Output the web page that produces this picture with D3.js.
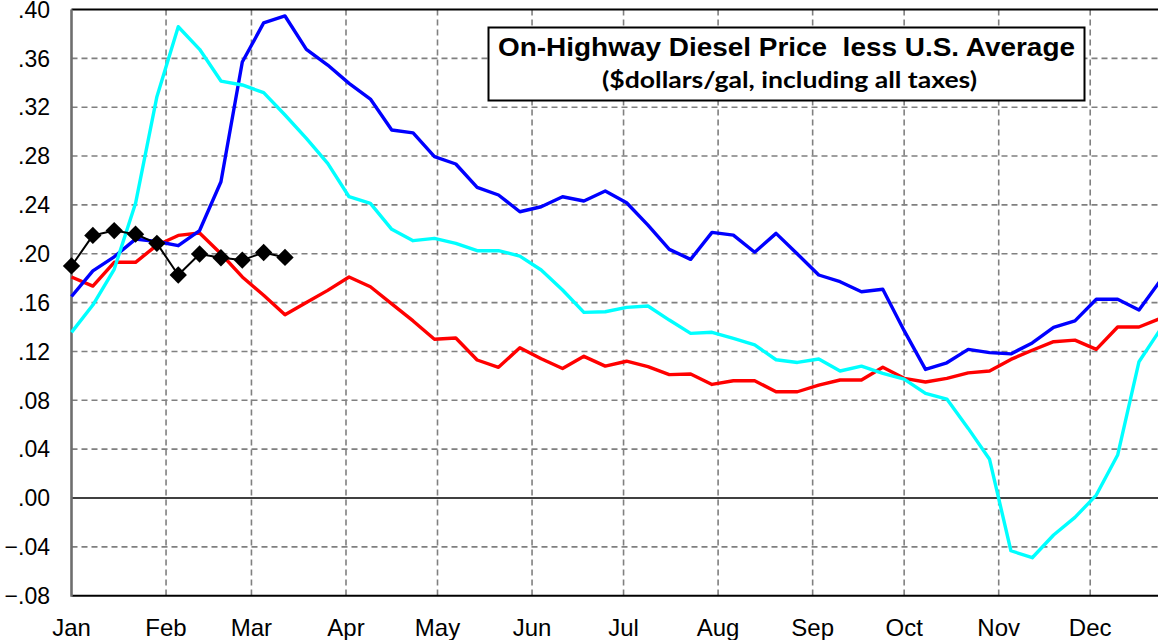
<!DOCTYPE html>
<html>
<head>
<meta charset="utf-8">
<script src="https://cdn.jsdelivr.net/npm/d3@7"></script>
<style>
  html, body { margin: 0; padding: 0; background: #fff; overflow: hidden; }
  svg { display: block; }
</style>
</head>
<body>
<svg id="chart"></svg>
<script>
// Weekly values, starting at the first week of January
const blueSeries = [0.165, 0.186, 0.1975, 0.212, 0.210, 0.2066, 0.219, 0.259, 0.357, 0.389, 0.3947, 0.3674, 0.3545,
  0.3395, 0.3267, 0.3013, 0.299, 0.2795, 0.2735, 0.2544, 0.2481, 0.2344, 0.2385, 0.2467, 0.2432, 0.2514, 0.2418,
  0.2235, 0.2036, 0.1954, 0.2175, 0.2153, 0.2012, 0.2167, 0.1998, 0.1826, 0.1771, 0.1689, 0.1709, 0.137, 0.1053,
  0.1107, 0.1217, 0.119, 0.118, 0.127, 0.1397, 0.145, 0.1627, 0.1627, 0.1539, 0.178];
const redSeries = [0.181, 0.1735, 0.193, 0.193, 0.207, 0.215, 0.217, 0.200, 0.181, 0.166, 0.150, 0.160, 0.170,
  0.181, 0.173, 0.159, 0.145, 0.130, 0.131, 0.113, 0.107, 0.123, 0.114, 0.106, 0.116, 0.108, 0.112,
  0.1075, 0.101, 0.1015, 0.093, 0.096, 0.096, 0.087, 0.087, 0.0925, 0.0966, 0.0966, 0.107, 0.098, 0.095,
  0.098, 0.1025, 0.104, 0.1135, 0.121, 0.128, 0.1293, 0.1217, 0.140, 0.140, 0.147];
const cyanSeries = [0.1356, 0.158, 0.1873, 0.2413, 0.3286, 0.3859, 0.3674, 0.3414, 0.3382, 0.3319, 0.3136, 0.2945, 0.274,
  0.2467, 0.2413, 0.22, 0.2107, 0.2126, 0.2085, 0.2025, 0.2025, 0.1981, 0.1867, 0.1703, 0.152, 0.1525, 0.1561,
  0.1572, 0.1457, 0.1348, 0.1357, 0.1307, 0.1253, 0.1132, 0.111, 0.1138, 0.104, 0.108, 0.102, 0.0974, 0.0857,
  0.081, 0.057, 0.0317, -0.0432, -0.0489, -0.0303, -0.0159, 0.0024, 0.0352, 0.1116, 0.138];
const currentSeries = [0.190, 0.215, 0.219, 0.216, 0.2085, 0.1826, 0.1998, 0.1967, 0.1948, 0.201, 0.197];

const monthLabels = ['Jan', 'Feb', 'Mar', 'Apr', 'May', 'Jun', 'Jul', 'Aug', 'Sep', 'Oct', 'Nov', 'Dec'];
const yTicks = [-0.08, -0.04, 0.00, 0.04, 0.08, 0.12, 0.16, 0.20, 0.24, 0.28, 0.32, 0.36, 0.40];
const titleText = 'On-Highway Diesel Price\u00a0\u00a0less U.S. Average';
const subtitleText = '($dollars/gal, including all taxes)';

const width = 1158;
const height = 640;
const plotLeft = 71.5;
const plotTop = 9.5;
const plotBottom = 595.7;

const year = 2019;
const start = new Date(year, 0, 1);
const end = new Date(year + 1, 0, 1);
const weekDate = i => d3.timeDay.offset(start, 7 * i);

const svg = d3.select('#chart').attr('width', width).attr('height', height);

const x = d3.scaleTime().domain([start, end]).range([plotLeft, plotLeft + 365 * 3.05]);
const y = d3.scaleLinear().domain([-0.08, 0.40]).range([plotBottom, plotTop]);

const months = monthLabels.map((m, i) => new Date(year, i, 1));
const fmt = v => d3.format('.2f')(v).replace('0.', '.');

// Grid
const grid = svg.append('g');
grid.selectAll('.hgrid')
  .data(yTicks.filter(v => Math.abs(v) > 1e-9 && v > -0.07 && v < 0.39))
  .enter().append('line')
  .attr('x1', plotLeft).attr('x2', width)
  .attr('y1', d => y(d)).attr('y2', d => y(d))
  .attr('stroke', '#808080').attr('stroke-width', 1.6)
  .attr('stroke-dasharray', '6,4');
grid.selectAll('.vgrid')
  .data(months.slice(1))
  .enter().append('line')
  .attr('x1', d => x(d)).attr('x2', d => x(d))
  .attr('y1', plotTop).attr('y2', plotBottom)
  .attr('stroke', '#808080').attr('stroke-width', 1.6)
  .attr('stroke-dasharray', '6,4');

// Frame lines
svg.append('line').attr('x1', plotLeft).attr('x2', width).attr('y1', y(0.40)).attr('y2', y(0.40))
  .attr('stroke', '#000').attr('stroke-width', 2);
svg.append('line').attr('x1', plotLeft).attr('x2', width).attr('y1', y(-0.08)).attr('y2', y(-0.08))
  .attr('stroke', '#000').attr('stroke-width', 2);
svg.append('line').attr('x1', plotLeft).attr('x2', width).attr('y1', y(0)).attr('y2', y(0))
  .attr('stroke', '#000').attr('stroke-width', 1.6);
svg.append('line').attr('x1', plotLeft).attr('x2', plotLeft).attr('y1', plotTop).attr('y2', plotBottom + 1)
  .attr('stroke', '#6e6e6e').attr('stroke-width', 2.6);

// Y axis labels
svg.selectAll('.ylab')
  .data(yTicks)
  .enter().append('text')
  .attr('x', 50)
  .attr('y', d => y(d))
  .attr('dy', '0.36em')
  .attr('text-anchor', 'end')
  .attr('font-family', 'Liberation Sans, Arial, sans-serif')
  .attr('font-size', 23)
  .attr('fill', '#000')
  .text(fmt);

// X axis labels
svg.selectAll('.xlab')
  .data(months)
  .enter().append('text')
  .attr('x', d => x(d))
  .attr('y', 636)
  .attr('text-anchor', 'middle')
  .attr('font-family', 'Liberation Sans, Arial, sans-serif')
  .attr('font-size', 24)
  .attr('fill', '#000')
  .text((d, i) => monthLabels[i]);

// Lines
const line = d3.line()
  .x((d, i) => x(weekDate(i)))
  .y(d => y(d));

const seriesList = [
  { values: redSeries, color: '#ff0000', w: 3.4 },
  { values: blueSeries, color: '#0000ff', w: 3.4 },
  { values: cyanSeries, color: '#00ffff', w: 3.4 },
  { values: currentSeries, color: '#000000', w: 2 }
];

svg.selectAll('.series')
  .data(seriesList)
  .enter().append('path')
  .attr('fill', 'none')
  .attr('stroke', d => d.color)
  .attr('stroke-width', d => d.w)
  .attr('stroke-linejoin', 'round')
  .attr('d', d => line(d.values));

// Diamond markers for the current year
const diamond = d3.symbol().type(d3.symbolSquare).size(150);
svg.selectAll('.marker')
  .data(currentSeries)
  .enter().append('path')
  .attr('d', diamond)
  .attr('fill', '#000')
  .attr('transform', (d, i) => 'translate(' + x(weekDate(i)) + ',' + y(d) + ') rotate(45)');

// Title box
const box = svg.append('g');
box.append('rect')
  .attr('x', 488.5).attr('y', 27.5)
  .attr('width', 596).attr('height', 73)
  .attr('fill', '#fff').attr('stroke', '#000').attr('stroke-width', 2);
box.append('text')
  .attr('x', 498).attr('y', 56)
  .attr('font-family', 'Liberation Sans, Arial, sans-serif')
  .attr('font-weight', 'bold')
  .attr('font-size', 25)
  .attr('textLength', 577)
  .attr('lengthAdjust', 'spacingAndGlyphs')
  .text(titleText);
box.append('text')
  .attr('x', 602).attr('y', 88)
  .attr('font-family', 'Lato, Open Sans, sans-serif')
  .attr('font-weight', 'bold')
  .attr('font-size', 23)
  .attr('textLength', 375)
  .attr('lengthAdjust', 'spacingAndGlyphs')
  .text(subtitleText);
</script>
</body>
</html>
